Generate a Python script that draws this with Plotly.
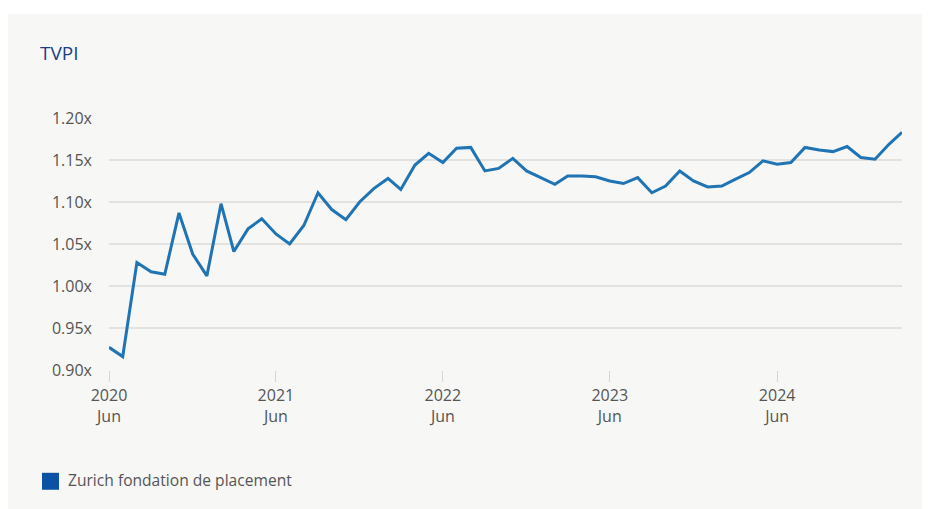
import plotly.graph_objects as go
import pandas as pd

dates = pd.date_range("2020-06-01", periods=58, freq="MS")
tvpi = [0.927, 0.916, 1.028, 1.017, 1.014, 1.087, 1.038, 1.012, 1.098, 1.041,
        1.068, 1.080, 1.062, 1.050, 1.072, 1.111, 1.091, 1.079, 1.100, 1.116,
        1.128, 1.115, 1.144, 1.158, 1.147, 1.164, 1.165, 1.137, 1.140, 1.152,
        1.137, 1.129, 1.121, 1.131, 1.131, 1.130, 1.125, 1.122, 1.129, 1.111,
        1.119, 1.137, 1.125, 1.118, 1.119, 1.127, 1.135, 1.149, 1.145, 1.147,
        1.165, 1.162, 1.160, 1.166, 1.153, 1.151, 1.169, 1.183]
tick_dates = ["2020-06-01", "2021-06-01", "2022-06-01", "2023-06-01", "2024-06-01"]
tick_labels = ["2020<br>Jun", "2021<br>Jun", "2022<br>Jun", "2023<br>Jun", "2024<br>Jun"]
series_name = "Zurich fondation de placement"
title_text = "TVPI"

OFF = 8  # page body margin
W, H = 940, 501
# plot area in screen coordinates
SX0, SX1, SY0, SY1 = 109, 902, 117.5, 370
L, R, T, B = SX0 - OFF, W - (SX1 - OFF), SY0 - OFF, H - (SY1 - OFF)
pw, ph = W - L - R, H - T - B

def px(x):
    return (x - SX0) / pw

def py(y):
    return (SY1 - y) / ph

FONT = "Open Sans"
fig = go.Figure()
fig.add_trace(go.Scatter(x=dates, y=tvpi, mode="lines", name=series_name,
                         line=dict(color="#2074b4", width=3), showlegend=False))

fig.update_layout(
    width=W, height=H,
    margin=dict(l=L, r=R, t=T, b=B),
    paper_bgcolor="white", plot_bgcolor="rgba(0,0,0,0)",
    font=dict(family=FONT, color="#555555", size=16),
    xaxis=dict(range=[dates[0], dates[-1]], tickvals=tick_dates, ticktext=tick_labels,
               showgrid=False, ticks="outside", ticklen=11, tickcolor="#d6d4d0",
               tickwidth=1, showline=False, zeroline=False,
               tickfont=dict(size=16, color="#555555")),
    yaxis=dict(range=[0.9, 1.2], dtick=0.05, tick0=0.9, tickformat=".2f", ticksuffix="x",
               showgrid=True, gridcolor="#e4e2df", gridwidth=1.5, zeroline=False,
               showline=False, ticks="", ticklabelstandoff=16,
               tickfont=dict(size=16, color="#555555")),
    shapes=[
        dict(type="rect", xref="paper", yref="paper", layer="below",
             x0=px(8), x1=px(960), y0=py(515), y1=py(13),
             fillcolor="#f7f7f5", line=dict(width=0)),
        dict(type="rect", xref="paper", yref="paper",
             x0=px(42), x1=px(59), y0=py(490), y1=py(473),
             fillcolor="#0a52a3", line=dict(width=0)),
    ],
    annotations=[
        dict(text=title_text, xref="paper", yref="paper", x=px(38), y=py(52),
             xanchor="left", yanchor="middle", showarrow=False,
             font=dict(family=FONT, size=19, color="#1c3f8c")),
        dict(text=series_name, xref="paper", yref="paper", x=px(66), y=py(480),
             xanchor="left", yanchor="middle", showarrow=False,
             font=dict(family=FONT, size=15.6, color="#555555")),
    ],
)

fig.write_html("out.html")
